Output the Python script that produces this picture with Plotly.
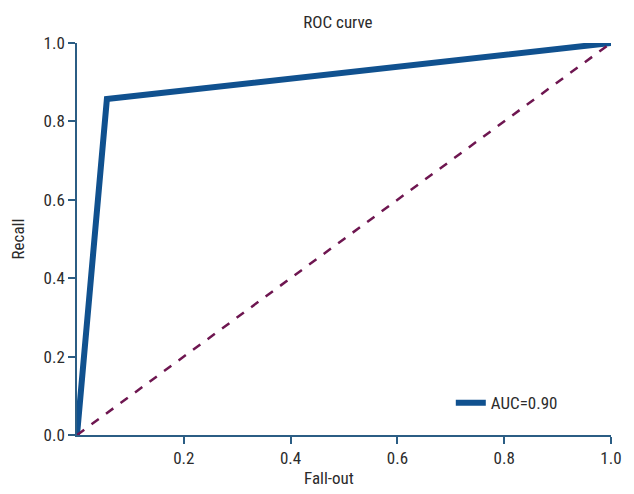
import plotly.graph_objects as go

fpr = [0.0, 0.056, 1.0]
tpr = [0.0, 0.857, 1.0]
diag_x = [0.0, 1.0]
diag_y = [0.0, 1.0]
auc_label = "AUC=0.90"
x_ticks = [0.2, 0.4, 0.6, 0.8, 1.0]
y_ticks = [0.0, 0.2, 0.4, 0.6, 0.8, 1.0]

FONT = "Roboto Condensed, Arial Narrow, Roboto, sans-serif"
AX = "#2b5d84"
TXT = "#2b2b2b"

fig = go.Figure()
fig.add_trace(go.Scatter(x=fpr, y=tpr, mode="lines", name=auc_label, cliponaxis=False,
                         line=dict(color="#10518f", width=6)))
fig.add_trace(go.Scatter(x=diag_x, y=diag_y, mode="lines", showlegend=False, cliponaxis=False,
                         line=dict(color="#6e1650", width=2.5, dash="dash")))

fig.update_layout(
    width=634, height=494,
    margin=dict(l=77, r=23, t=43, b=59, autoexpand=False),
    paper_bgcolor="white", plot_bgcolor="white",
    font=dict(family=FONT, size=17, color=TXT),
    title=dict(text="ROC curve", x=0.533, xanchor="center", y=0.955, yanchor="middle",
               font=dict(family=FONT, size=17, color=TXT)),
    legend=dict(x=0.70, y=0.035, xanchor="left", yanchor="bottom",
                bgcolor="rgba(0,0,0,0)", font=dict(family=FONT, size=17, color=TXT)),
    xaxis=dict(range=[0, 1], tickvals=x_ticks, ticktext=[f"{v:.1f}" for v in x_ticks],
               showline=True, linecolor=AX, linewidth=1.5, ticks="outside",
               tickcolor=AX, ticklen=7, tickwidth=1.5, showgrid=False, zeroline=False,
               automargin=False, tickfont=dict(family=FONT, size=17, color=TXT)),
    yaxis=dict(range=[0, 1], tickvals=y_ticks, ticktext=[f"{v:.1f}" for v in y_ticks],
               showline=True, linecolor=AX, linewidth=1.5, ticks="outside",
               tickcolor=AX, ticklen=7, tickwidth=1.5, showgrid=False, zeroline=False,
               automargin=False, tickfont=dict(family=FONT, size=17, color=TXT),
               title=dict(text="Recall", font=dict(family=FONT, size=17, color=TXT))),
    annotations=[dict(text="Fall-out", xref="paper", yref="paper", x=0.472, y=-0.11,
                      xanchor="center", yanchor="middle", showarrow=False,
                      font=dict(family=FONT, size=17, color=TXT))],
)
fig.write_html("out.html", config={"displayModeBar": False},
               post_script="document.body.style.margin='0';document.body.style.padding='0';")
